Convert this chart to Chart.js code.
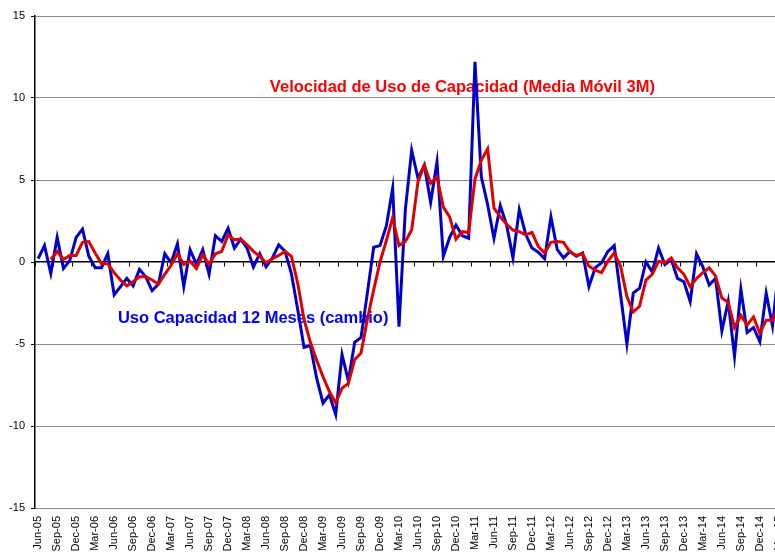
<!DOCTYPE html>
<html>
<head>
<meta charset="utf-8">
<title>Uso de Capacidad</title>
<script src="https://cdn.jsdelivr.net/npm/chart.js@4.4.0/dist/chart.umd.min.js"></script>
<style>
  html, body { margin: 0; padding: 0; background: #fff; overflow: hidden; }
  /* the original picture is cut off on the right, so the chart is a bit wider than the window */
  #wrap { position: relative; width: 782px; height: 554px; }
</style>
</head>
<body>
<div id="wrap"><canvas id="capacidad-chart"></canvas></div>
<script>
/* Months on the x axis: Jun-05 .. Mar-15 */
let monthNames = ['Jan', 'Feb', 'Mar', 'Apr', 'May', 'Jun', 'Jul', 'Aug', 'Sep', 'Oct', 'Nov', 'Dec']
let firstMonth = 5   // Jun
let firstYear = 2005
let monthCount = 118

let monthLabels = []
for (let i = 0; i < monthCount; i++) {
    let m = (firstMonth + i) % 12
    let yr = firstYear + Math.floor((firstMonth + i) / 12)
    monthLabels.push(monthNames[m] + '-' + String(yr % 100).padStart(2, '0'))
}

/* Uso Capacidad 12 Meses (cambio) - one row per year, Jun..May */
let usoCapacidad12m = [
    0.2, 1.0, -0.7, 1.5, -0.4, 0.1, 1.5, 2.0, 0.35, -0.35, -0.35, 0.5,
    -2.0, -1.5, -1.0, -1.45, -0.45, -0.9, -1.75, -1.35, 0.5, -0.05, 1.1, -1.5,
    0.75, -0.15, 0.75, -0.75, 1.6, 1.25, 2.05, 0.85, 1.4, 0.85, -0.3, 0.5,
    -0.3, 0.25, 1.05, 0.65, -0.7, -2.9, -5.2, -5.1, -7.1, -8.6, -8.1, -9.3,
    -5.65, -7.25, -4.9, -4.6, -1.9, 0.9, 1.0, 2.2, 4.5, -3.95, 3.2, 6.8,
    5.1, 5.9, 3.65, 6.1, 0.35, 1.5, 2.25, 1.6, 1.45, 12.2, 5.2, 3.5,
    1.45, 3.45, 2.25, 0.25, 3.2, 1.7, 0.85, 0.6, 0.2, 2.75, 0.75, 0.25,
    0.65, 0.35, 0.55, -1.5, -0.35, -0.05, 0.65, 1.0, -2.0, -5.0, -1.9, -1.6,
    0.0, -0.6, 0.85, -0.15, 0.15, -1.0, -1.2, -2.4, 0.5, -0.3, -1.4, -1.0,
    -4.2, -2.4, -5.75, -1.65, -4.3, -4.0, -4.85, -1.9, -3.9, -0.3
]

/* Velocidad de Uso de Capacidad (Media Movil 3M) */
let velocidadUso3m = [
    null, null, 0.15, 0.65, 0.15, 0.4, 0.4, 1.2, 1.25, 0.55, -0.1, -0.1,
    -0.65, -1.1, -1.45, -1.2, -0.9, -0.9, -1.1, -1.35, -0.75, -0.2, 0.5, -0.15,
    0.05, -0.4, 0.45, -0.15, 0.5, 0.65, 1.65, 1.35, 1.4, 1.05, 0.65, 0.35,
    -0.05, 0.2, 0.4, 0.65, 0.35, -1.3, -3.5, -4.9, -6.0, -7.0, -7.9, -8.6,
    -7.7, -7.4, -5.95, -5.55, -3.5, -1.7, 0.0, 1.3, 2.7, 1.0, 1.25, 1.95,
    4.9, 5.9, 4.8, 5.2, 3.35, 2.75, 1.4, 1.85, 1.8, 5.05, 6.2, 6.9,
    3.3, 2.75, 2.3, 1.95, 1.85, 1.65, 1.8, 0.95, 0.55, 1.2, 1.25, 1.2,
    0.6, 0.4, 0.5, -0.25, -0.5, -0.65, 0.05, 0.55, -0.25, -2.1, -3.05, -2.7,
    -1.1, -0.75, 0.05, -0.05, 0.25, -0.35, -0.75, -1.5, -1.0, -0.65, -0.35, -0.85,
    -2.2, -2.45, -4.0, -3.25, -3.85, -3.35, -4.35, -3.55, -3.55, -2.7
]

let yTicks = [-15, -10, -5, 0, 5, 10, 15]

let fontFamily = '"Liberation Sans", Arial, sans-serif'

let chartCanvas = document.querySelector('#capacidad-chart')
let ctx = chartCanvas.getContext('2d')

// Text labels written inside the plot, under the lines
let notesPlugin = {
    id: 'notes',
    beforeDatasetsDraw(chart) {
        let c = chart.ctx
        let xs = chart.scales.x
        let ys = chart.scales.y
        c.save()
        c.font = 'bold 16.5px ' + fontFamily
        c.textAlign = 'left'
        c.textBaseline = 'middle'
        c.fillStyle = '#FF0000'
        c.fillText('Velocidad de Uso de Capacidad (Media Móvil 3M)', xs.getPixelForValue(36.6), ys.getPixelForValue(10.65))
        c.fillStyle = '#0000FF'
        c.fillText('Uso Capacidad 12 Meses (cambio)', xs.getPixelForValue(12.6), ys.getPixelForValue(-3.45))
        c.restore()
    }
}

let capacidadChart = new Chart(ctx, {
    type: 'line',
    data: {
        labels: monthLabels,
        datasets: [
            {
                label: 'Uso Capacidad 12 Meses (cambio)',
                data: usoCapacidad12m,
                borderColor: '#0000CC',
                borderWidth: 3,
                pointRadius: 0,
                tension: 0,
                order: 2
            },
            {
                label: 'Velocidad de Uso de Capacidad (Media Móvil 3M)',
                data: velocidadUso3m,
                borderColor: '#E00000',
                borderWidth: 3,
                pointRadius: 0,
                tension: 0,
                order: 1
            }
        ]
    },
    options: {
        responsive: true,
        maintainAspectRatio: false,
        animation: false,
        layout: { padding: { top: 16, right: 0, bottom: 0, left: 0 } },
        plugins: {
            legend: { display: false },
            tooltip: { enabled: false }
        },
        scales: {
            // month labels along the bottom
            x: {
                type: 'category',
                offset: true,
                grid: { display: false, drawTicks: false },
                border: { display: false },
                ticks: {
                    autoSkip: false,
                    maxRotation: 90,
                    minRotation: 90,
                    padding: 8,
                    color: '#000',
                    font: { family: fontFamily, size: 11 },
                    callback: function(value, index) {
                        return index % 3 === 0 ? this.getLabelForValue(value) : ''
                    }
                },
                afterFit: function(scale) {
                    scale.height = 46
                    scale.paddingLeft = 0
                    scale.paddingRight = 0
                }
            },
            // axis line crossing at zero, with tick marks every 3 months
            xZero: {
                type: 'category',
                position: { y: 0 },
                offset: true,
                ticks: { display: false, autoSkip: false },
                grid: {
                    offset: true,
                    drawOnChartArea: false,
                    drawTicks: true,
                    tickLength: 4,
                    tickWidth: 1,
                    tickColor: (c) => c.index % 3 === 0 ? '#000' : 'rgba(0,0,0,0)'
                },
                border: { display: true, color: '#000', width: 1.5 }
            },
            y: {
                min: yTicks[0],
                max: yTicks[yTicks.length - 1],
                afterBuildTicks: function(scale) {
                    scale.ticks = yTicks.map(v => ({ value: v }))
                },
                ticks: {
                    padding: 6,
                    color: '#000',
                    font: { family: fontFamily, size: 11 }
                },
                grid: {
                    color: (c) => c.tick && c.tick.value === 0 ? 'rgba(0,0,0,0)' : '#1a1a1a',
                    lineWidth: 1,
                    tickLength: 4,
                    tickColor: '#000'
                },
                border: { display: true, color: '#000', width: 1.5, dash: [1, 1] },
                afterFit: function(scale) {
                    scale.width = 35
                }
            }
        }
    },
    plugins: [notesPlugin]
})
</script>
</body>
</html>
